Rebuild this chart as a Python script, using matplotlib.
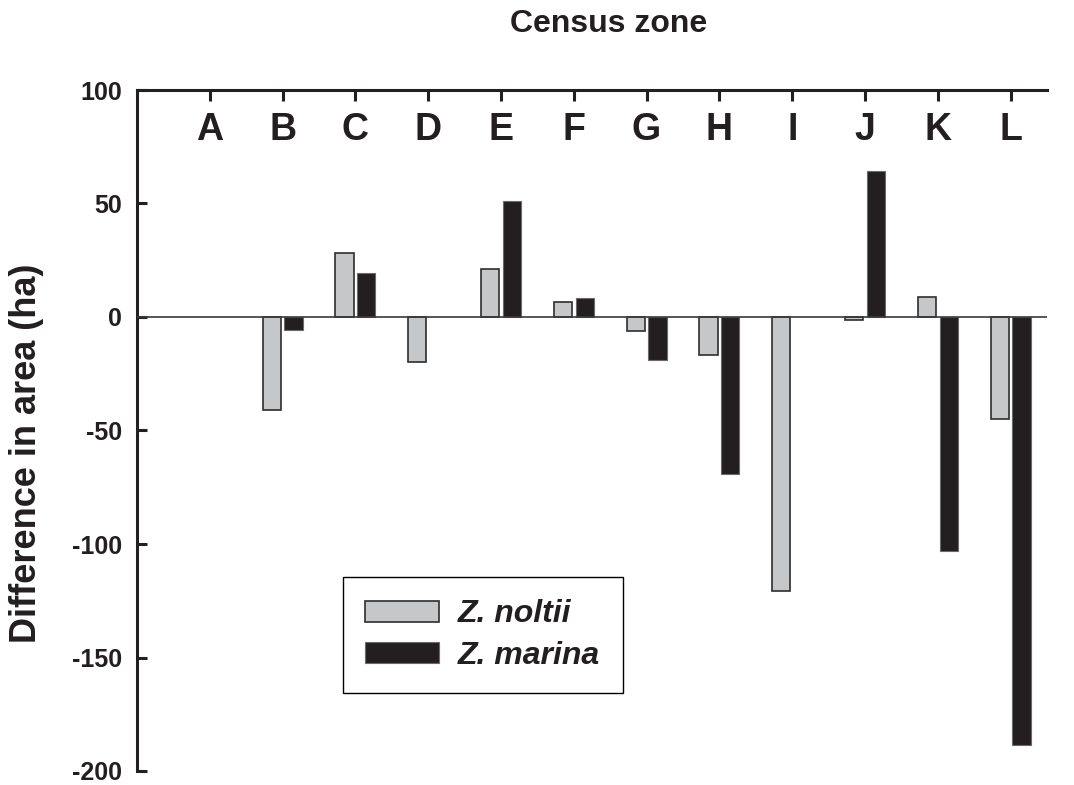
import numpy as np
import matplotlib
matplotlib.use("Agg")
import matplotlib.pyplot as plt

plt.rcParams["font.family"] = ["Liberation Sans", "DejaVu Sans"]
plt.rcParams["font.weight"] = "bold"
plt.rcParams["axes.unicode_minus"] = False

# Change in seagrass area per census zone (ha)
zones = ["A", "B", "C", "D", "E", "F", "G", "H", "I", "J", "K", "L"]
noltii = [np.nan, -41, 28, -20, 21, 6.6, -6, -16.6, -120.7, -1.4, 8.7, -44.8]
marina = [np.nan, -5.6, 19.2, np.nan, 51.3, 8.5, -19.1, -69, np.nan, 64.5, -103.2, -188.6]
yticks = [-200, -150, -100, -50, 0, 50, 100]

ink = "#231f20"
fig = plt.figure(figsize=(10.74, 7.85), dpi=100)
ax = fig.add_axes([137 / 1074, 1 - 771 / 785, 910 / 1074, 681 / 785])

pos = np.arange(1, len(zones) + 1)
off, w = 0.15, 0.25
b1 = ax.bar(pos - off, noltii, w, color="#c6c7c8", edgecolor="#2e2e2e",
            linewidth=1.2, zorder=2, label="Z. noltii")
b2 = ax.bar(pos + off, marina, w, color=ink, edgecolor="#6a6a6a",
            linewidth=0.8, zorder=2, label="Z. marina")
ax.axhline(0, color="#3a3a3a", linewidth=1.2, zorder=3)

ax.set_xlim(0, 12.5)
ax.set_ylim(-200, 100)

for s in ("right", "bottom"):
    ax.spines[s].set_visible(False)
for s in ("left", "top"):
    ax.spines[s].set_linewidth(2.2)
    ax.spines[s].set_color(ink)

ax.set_xticks(pos, zones)
ax.xaxis.tick_top()
ax.tick_params(axis="x", direction="in", length=8, width=2.2, color=ink,
               labelsize=27, labelcolor=ink, pad=-42)
ax.set_yticks(yticks)
ax.tick_params(axis="y", direction="in", length=7.2, width=2.2, color=ink,
               labelsize=18, labelcolor=ink, pad=11)

ax.set_ylabel("Difference in area (ha)", fontsize=26, fontweight="bold",
              color=ink, va="center")
ax.yaxis.set_label_coords((27 - 137) / 910, (771 - 453) / 681)

ax.set_title("Census zone", fontsize=23, fontweight="bold", color=ink,
             x=(609 - 137) / 910, y=1 + 66 / 681, va="center", pad=0)

leg = ax.legend(handles=[b1, b2], loc="upper left",
                bbox_to_anchor=(343 / 1074, 1 - 690 / 785, 280 / 1074, 113 / 785),
                bbox_transform=fig.transFigure, mode="expand", borderaxespad=0,
                prop={"weight": "bold", "style": "italic", "size": 23},
                handlelength=2.29, handleheight=0.63, handletextpad=0.6,
                borderpad=0.7, labelspacing=0.35, fancybox=False,
                framealpha=1, edgecolor="black")
leg.get_frame().set_linewidth(1.0)
for t in leg.get_texts():
    t.set_color(ink)

fig.savefig("out.png", dpi=100)
